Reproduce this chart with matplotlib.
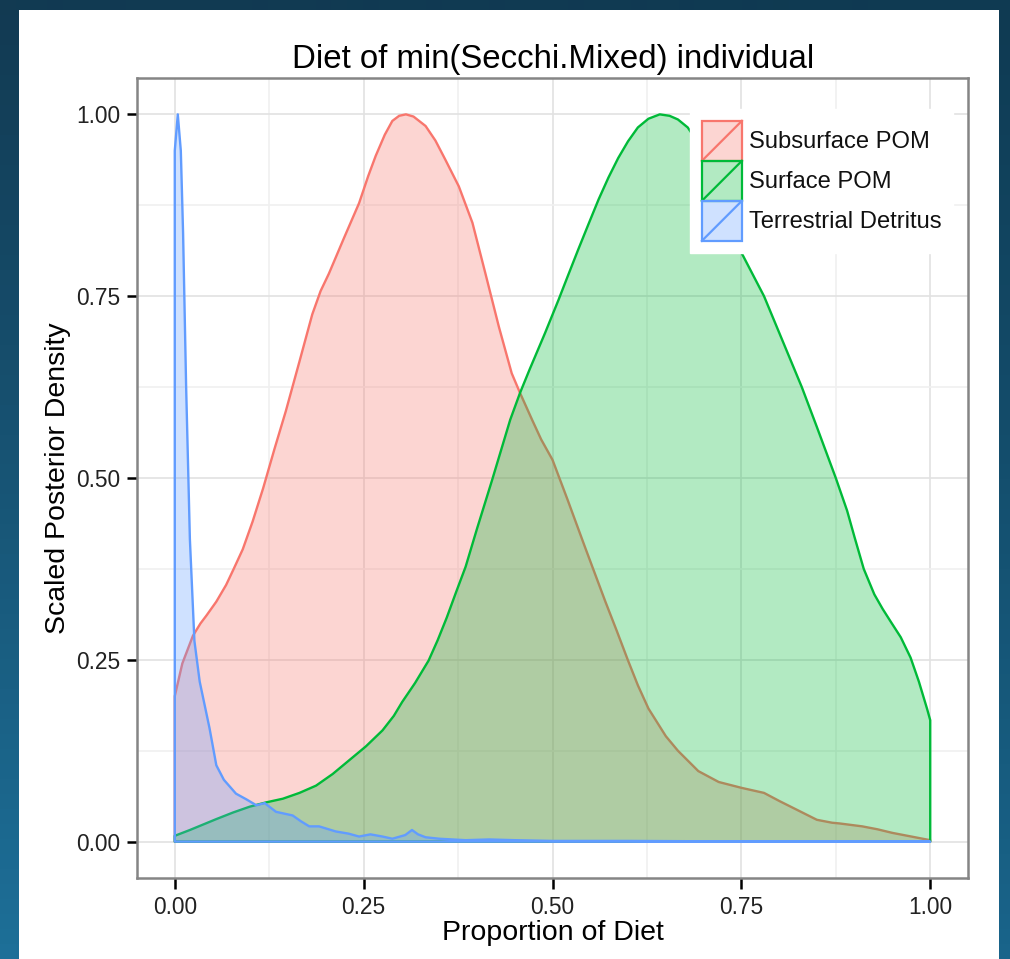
import numpy as np
import matplotlib
matplotlib.use("Agg")
import matplotlib.pyplot as plt
from matplotlib.patches import Rectangle
from matplotlib.lines import Line2D
from matplotlib.legend_handler import HandlerBase
from matplotlib.colors import to_rgb

plt.rcParams['font.family'] = ['Liberation Sans', 'DejaVu Sans']

# ---------------- data ----------------
title = "Diet of min(Secchi.Mixed) individual"
xlabel = "Proportion of Diet"
ylabel = "Scaled Posterior Density"
categories = ["Subsurface POM", "Surface POM", "Terrestrial Detritus"]
colors = ["#F8766D", "#00BA38", "#619CFF"]
tick_vals = [0.0, 0.25, 0.5, 0.75, 1.0]
tick_labels = ["0.00", "0.25", "0.50", "0.75", "1.00"]

sub_x = [0, 0.01, 0.024, 0.034, 0.042, 0.055, 0.068, 0.078, 0.09, 0.103, 0.117, 0.132,
         0.147, 0.165, 0.182, 0.193, 0.204, 0.224, 0.244, 0.256, 0.266, 0.278, 0.288,
         0.297, 0.306, 0.316, 0.332, 0.345, 0.358, 0.376, 0.394, 0.411, 0.429, 0.446,
         0.457, 0.473, 0.485, 0.5, 0.52, 0.543, 0.57, 0.585, 0.6, 0.613, 0.627, 0.65,
         0.666, 0.693, 0.72, 0.75, 0.78, 0.8, 0.825, 0.85, 0.87, 0.88, 0.91, 0.93,
         0.95, 0.975, 1.0]
sub_y = [0.2, 0.245, 0.283, 0.30, 0.311, 0.33, 0.353, 0.375, 0.402, 0.44, 0.486, 0.54,
         0.592, 0.66, 0.725, 0.757, 0.781, 0.83, 0.878, 0.915, 0.943, 0.972, 0.991,
         0.998, 1.0, 0.997, 0.984, 0.964, 0.938, 0.901, 0.851, 0.782, 0.708, 0.644,
         0.617, 0.58, 0.553, 0.525, 0.47, 0.405, 0.33, 0.29, 0.249, 0.215, 0.183, 0.145,
         0.125, 0.097, 0.082, 0.074, 0.067, 0.056, 0.043, 0.030, 0.026, 0.025, 0.021,
         0.017, 0.012, 0.007, 0.002]

surf_x = [0, 0.02, 0.055, 0.077, 0.099, 0.121, 0.143, 0.165, 0.187, 0.209, 0.231, 0.253,
          0.275, 0.29, 0.301, 0.318, 0.336, 0.348, 0.36, 0.372, 0.385, 0.40, 0.42,
          0.444, 0.457, 0.47, 0.49, 0.508, 0.52, 0.534, 0.548, 0.561, 0.574, 0.587,
          0.60, 0.613, 0.627, 0.642, 0.655, 0.666, 0.679, 0.69, 0.71, 0.73, 0.75, 0.78,
          0.80, 0.83, 0.85, 0.875, 0.89, 0.90, 0.912, 0.926, 0.937, 0.948, 0.961,
          0.974, 0.985, 0.996, 1.0]
surf_y = [0.008, 0.016, 0.031, 0.04, 0.048, 0.054, 0.059, 0.067, 0.077, 0.093, 0.112,
          0.131, 0.153, 0.173, 0.192, 0.218, 0.249, 0.277, 0.308, 0.342, 0.378, 0.43,
          0.497, 0.58, 0.617, 0.65, 0.699, 0.745, 0.777, 0.814, 0.85, 0.883, 0.913,
          0.94, 0.963, 0.982, 0.994, 1.0, 0.998, 0.993, 0.982, 0.965, 0.93, 0.875, 0.81,
          0.75, 0.70, 0.625, 0.57, 0.50, 0.455, 0.418, 0.375, 0.34, 0.32, 0.302, 0.281,
          0.253, 0.22, 0.182, 0.167]

terr_x = [0, 0.004, 0.008, 0.011, 0.015, 0.020, 0.026, 0.033, 0.046, 0.055, 0.065, 0.081,
          0.095, 0.108, 0.119, 0.134, 0.156, 0.167, 0.178, 0.191, 0.213, 0.23, 0.244,
          0.259, 0.275, 0.288, 0.305, 0.314, 0.322, 0.332, 0.35, 0.385, 0.416, 0.45,
          0.5, 0.6, 0.7, 0.8, 1.0]
terr_y = [0.95, 1.0, 0.95, 0.837, 0.627, 0.416, 0.276, 0.22, 0.156, 0.105, 0.085, 0.066,
          0.058, 0.050, 0.053, 0.041, 0.036, 0.028, 0.021, 0.021, 0.014, 0.011, 0.007,
          0.010, 0.007, 0.004, 0.009, 0.016, 0.010, 0.006, 0.004, 0.002, 0.003, 0.002,
          0.001, 0.001, 0.0005, 0.0005, 0.0]

series = [(sub_x, sub_y), (surf_x, surf_y), (terr_x, terr_y)]

# ---------------- figure ----------------
W, H = 1010, 959
fig = plt.figure(figsize=(W / 100, H / 100), dpi=100)

# background gradient
bg = fig.add_axes([0, 0, 1, 1], zorder=-10)
bg.set_axis_off()
tl, bl = np.array(to_rgb("#123A52")), np.array(to_rgb("#1D6F98"))
tr, br = np.array(to_rgb("#0F3A52")), np.array(to_rgb("#19648A"))
ny, nx = 64, 64
v = np.linspace(0, 1, ny)[:, None, None]
h = np.linspace(0, 1, nx)[None, :, None]
top = tl * (1 - h) + tr * h
bot = bl * (1 - h) + br * h
img = top * (1 - v) + bot * v
bg.imshow(img, extent=[0, 1, 0, 1], aspect='auto', origin='upper')
bg.add_patch(Rectangle((19 / W, 0), (999 - 19) / W, (H - 10) / H,
                       facecolor='white', edgecolor='none', transform=bg.transAxes))
bg.set_xlim(0, 1)
bg.set_ylim(0, 1)

# main axes
L, R, T, B = 137, 968, 78, 878
ax = fig.add_axes([L / W, (H - B) / H, (R - L) / W, (B - T) / H])
ax.set_facecolor('white')
ax.set_xlim(-0.05, 1.05)
ax.set_ylim(-0.05, 1.05)

ax.set_xticks(tick_vals)
ax.set_xticklabels(tick_labels)
ax.set_yticks(tick_vals)
ax.set_yticklabels(tick_labels)
ax.set_xticks([0.125, 0.375, 0.625, 0.875], minor=True)
ax.set_yticks([0.125, 0.375, 0.625, 0.875], minor=True)
ax.grid(True, which='major', color='#E2E2E2', lw=1.2)
ax.grid(True, which='minor', color='#F0F0F0', lw=1.2)
ax.set_axisbelow(True)
ax.tick_params(which='minor', length=0)
ax.tick_params(axis='y', which='major', direction='out', length=7, width=1.8,
               color='black', labelsize=16.4, labelcolor='#222222', pad=5)
ax.tick_params(axis='x', which='major', direction='out', length=8, width=1.8,
               color='black', labelsize=16.4, labelcolor='#222222', pad=5)
for s in ax.spines.values():
    s.set_color('#858585')
    s.set_linewidth(1.8)

for (xs, ys), c in zip(series, colors):
    px = [xs[0]] + list(xs) + [xs[-1]]
    py = [0.0] + list(ys) + [0.0]
    rgb = to_rgb(c)
    ax.fill(px, py, facecolor=(*rgb, 0.3), edgecolor=c, lw=1.7, joinstyle='round')

# legend with density-style keys
class DensityKey(HandlerBase):
    def create_artists(self, legend, orig_handle, xdescent, ydescent, width, height,
                       fontsize, trans):
        fc, ec = orig_handle.get_facecolor(), orig_handle.get_edgecolor()
        r = Rectangle((-xdescent, -ydescent), width, height, facecolor=fc,
                      edgecolor=ec, lw=1.6, transform=trans)
        ln = Line2D([-xdescent, -xdescent + width], [-ydescent, -ydescent + height],
                    color=ec, lw=1.6, transform=trans)
        return [r, ln]

leg_fs = 17.1
handles = [Rectangle((0, 0), 1, 1, facecolor=(*to_rgb(c), 0.3), edgecolor=c)
           for c in colors]
leg = ax.legend(handles, categories, handler_map={Rectangle: DensityKey()},
                loc='upper left', bbox_to_anchor=((690 - L) / (R - L), (B - 109) / (B - T)),
                frameon=True, fancybox=False, framealpha=1, facecolor='white',
                edgecolor='white', fontsize=leg_fs, handlelength=1.684, handleheight=2.214,
                labelspacing=0.0, handletextpad=0.3, borderpad=0.5, borderaxespad=0)
for t in leg.get_texts():
    t.set_color('#111111')

# titles
fig.text(553 / W, (H - 68) / H, title, ha='center', va='baseline', fontsize=23.8,
         color='black')
fig.text(553 / W, (H - 940) / H, xlabel, ha='center', va='baseline', fontsize=20.5,
         color='black')
fig.text(65 / W, (H - 478) / H, ylabel, ha='center', va='baseline', fontsize=20.5,
         rotation=90, rotation_mode='anchor', color='black')

fig.savefig("out.png", dpi=100)
